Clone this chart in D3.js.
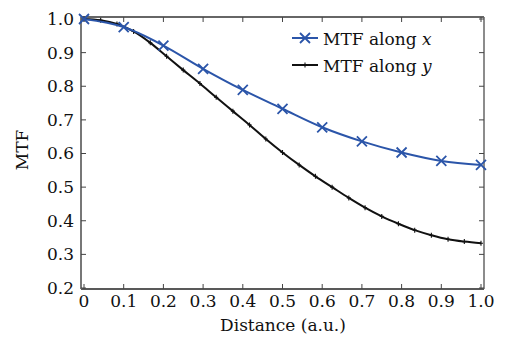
<!DOCTYPE html>
<meta charset="utf-8">
<style>
body { margin: 0; background: #fff; }
text { fill: #111; }
</style>
<body>
<script src="https://d3js.org/d3.v7.min.js"></script>
<script>

// MTF along x (markers every 0.1)
var xDist = [0, 0.1, 0.2, 0.3, 0.4, 0.5, 0.6, 0.7, 0.8, 0.9, 1.0];
var mtfX = [1.000, 0.976, 0.921, 0.852, 0.789, 0.733, 0.678, 0.636, 0.603, 0.578, 0.566];

// MTF along y (25 samples)
var yDist = [0, 0.042, 0.083, 0.125, 0.167, 0.208, 0.25, 0.292, 0.333, 0.375, 0.417, 0.458,
  0.5, 0.542, 0.583, 0.625, 0.667, 0.708, 0.75, 0.792, 0.833, 0.875, 0.917, 0.958, 1.0];
var mtfY = [1.000, 0.996, 0.985, 0.963, 0.929, 0.889, 0.848, 0.808, 0.767, 0.726, 0.685, 0.643,
  0.603, 0.566, 0.532, 0.500, 0.468, 0.439, 0.413, 0.391, 0.372, 0.357, 0.345, 0.338, 0.333];

var xTicks = [0, 0.1, 0.2, 0.3, 0.4, 0.5, 0.6, 0.7, 0.8, 0.9, 1.0];
var xTickLabels = ["0", "0.1", "0.2", "0.3", "0.4", "0.5", "0.6", "0.7", "0.8", "0.9", "1.0"];
var yTicks = [0.2, 0.3, 0.4, 0.5, 0.6, 0.7, 0.8, 0.9, 1.0];

var width = 506, height = 339;
var frame = {left: 81, right: 484, top: 17, bottom: 289};

var x = d3.scaleLinear().domain([0, 1]).range([84, 481]);
var y = d3.scaleLinear().domain([0.2, 1.0]).range([288, 19]);

var blue = "#2b55a9";
var font = "'DejaVu Serif', 'Liberation Serif', serif";
var fs = "17px";

var svg = d3.select("body").append("svg")
  .attr("width", width)
  .attr("height", height);

// frame
svg.append("line").attr("x1", frame.left).attr("x2", frame.right).attr("y1", frame.top).attr("y2", frame.top)
  .attr("stroke", "#333").attr("stroke-width", 1.5);
svg.append("line").attr("x1", frame.left).attr("x2", frame.right).attr("y1", frame.bottom).attr("y2", frame.bottom)
  .attr("stroke", "#222").attr("stroke-width", 1.5);
svg.append("line").attr("x1", frame.left).attr("x2", frame.left).attr("y1", frame.top).attr("y2", frame.bottom)
  .attr("stroke", "#777").attr("stroke-width", 2);
svg.append("line").attr("x1", frame.right).attr("x2", frame.right).attr("y1", frame.top).attr("y2", frame.bottom)
  .attr("stroke", "#666").attr("stroke-width", 1.5);

// inner ticks
var tk = 5;
xTicks.forEach(function(t) {
  svg.append("line").attr("x1", x(t)).attr("x2", x(t)).attr("y1", frame.bottom).attr("y2", frame.bottom - tk)
    .attr("stroke", "#444").attr("stroke-width", 1);
  svg.append("line").attr("x1", x(t)).attr("x2", x(t)).attr("y1", frame.top).attr("y2", frame.top + tk)
    .attr("stroke", "#444").attr("stroke-width", 1);
});
yTicks.forEach(function(t) {
  svg.append("line").attr("x1", frame.left).attr("x2", frame.left + tk).attr("y1", y(t)).attr("y2", y(t))
    .attr("stroke", "#444").attr("stroke-width", 1);
  svg.append("line").attr("x1", frame.right).attr("x2", frame.right - tk).attr("y1", y(t)).attr("y2", y(t))
    .attr("stroke", "#444").attr("stroke-width", 1);
});

// tick labels
svg.selectAll(".xlab").data(xTicks).enter().append("text")
  .attr("x", function(d) { return x(d); })
  .attr("y", 307)
  .attr("text-anchor", "middle")
  .attr("font-family", font)
  .attr("font-size", fs)
  .text(function(d, i) { return xTickLabels[i]; });

svg.selectAll(".ylab").data(yTicks).enter().append("text")
  .attr("x", 74)
  .attr("y", function(d) { return y(d); })
  .attr("dy", "0.35em")
  .attr("text-anchor", "end")
  .attr("font-family", font)
  .attr("font-size", fs)
  .text(function(d) { return d3.format(".1f")(d); });

// axis titles
svg.append("text")
  .attr("x", 283).attr("y", 331)
  .attr("text-anchor", "middle")
  .attr("font-family", font)
  .attr("font-size", fs)
  .text("Distance (a.u.)");

svg.append("text")
  .attr("transform", "translate(28,150) rotate(-90)")
  .attr("text-anchor", "middle")
  .attr("font-family", font)
  .attr("font-size", fs)
  .text("MTF");

var line = d3.line()
  .x(function(d) { return x(d[0]); })
  .y(function(d) { return y(d[1]); })
  .curve(d3.curveMonotoneX);

var dataY = yDist.map(function(d, i) { return [d, mtfY[i]]; });
var dataX = xDist.map(function(d, i) { return [d, mtfX[i]]; });

// black curve
svg.append("path").datum(dataY)
  .attr("d", line)
  .attr("fill", "none")
  .attr("stroke", "#111")
  .attr("stroke-width", 2);

svg.selectAll(".ym").data(dataY).enter().append("path")
  .attr("transform", function(d) { return "translate(" + x(d[0]) + "," + y(d[1]) + ")"; })
  .attr("d", "M-2,0H2M0,-2.5V2.5")
  .attr("stroke", "#111")
  .attr("stroke-width", 1.1);

// blue curve
svg.append("path").datum(dataX)
  .attr("d", line)
  .attr("fill", "none")
  .attr("stroke", blue)
  .attr("stroke-width", 2);

svg.selectAll(".xm").data(dataX).enter().append("path")
  .attr("transform", function(d) { return "translate(" + x(d[0]) + "," + y(d[1]) + ")"; })
  .attr("d", "M-5,-5L5,5M-5,5L5,-5")
  .attr("stroke", blue)
  .attr("stroke-width", 1.8);

// legend
var leg = svg.append("g");
leg.append("line").attr("x1", 292).attr("x2", 318).attr("y1", 38).attr("y2", 38)
  .attr("stroke", blue).attr("stroke-width", 2);
leg.append("path").attr("transform", "translate(305,38)")
  .attr("d", "M-5,-5L5,5M-5,5L5,-5").attr("stroke", blue).attr("stroke-width", 1.8);
leg.append("line").attr("x1", 292).attr("x2", 318).attr("y1", 65).attr("y2", 65)
  .attr("stroke", "#111").attr("stroke-width", 2);
leg.append("path").attr("transform", "translate(305,65)")
  .attr("d", "M-2,0H2M0,-2.5V2.5").attr("stroke", "#111").attr("stroke-width", 1.1);

var t1 = leg.append("text").attr("x", 323).attr("y", 45).attr("font-family", font).attr("font-size", fs);
t1.append("tspan").text("MTF along ");
t1.append("tspan").attr("font-style", "italic").text("x");
var t2 = leg.append("text").attr("x", 323).attr("y", 72).attr("font-family", font).attr("font-size", fs);
t2.append("tspan").text("MTF along ");
t2.append("tspan").attr("font-style", "italic").text("y");

</script>
</body>
